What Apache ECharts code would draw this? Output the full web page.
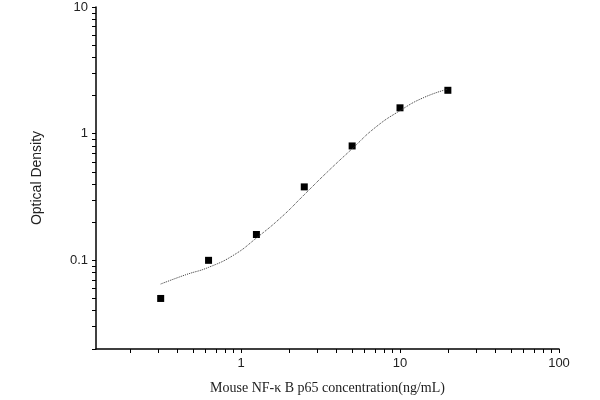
<!DOCTYPE html>
<html><head><meta charset="utf-8">
<script src="https://cdn.jsdelivr.net/npm/echarts@6/dist/echarts.min.js"></script>
<style>html,body{margin:0;background:#fff}#c{width:600px;height:400px}</style>
</head><body><div id="c"></div>
<script>
const concX = [0.3125, 0.625, 1.25, 2.5, 5, 10, 20];
const odY = [0.05, 0.1, 0.16, 0.38, 0.8, 1.6, 2.2];
const curveX = [0.3125, 0.45, 0.625, 0.9, 1.25, 1.8, 2.5, 3.5, 5, 7, 10, 14, 20];
const curveY = [0.065, 0.077, 0.088, 0.11, 0.15, 0.22, 0.33, 0.5, 0.76, 1.12, 1.52, 1.92, 2.25];
const xMajor = [1, 10, 100];
const yMajor = [0.1, 1, 10];
const L = Math.log10;
function minors(a, b) { const r = []; for (let e = a; e < b; e++) for (let k = 1; k <= 9; k++) r.push(L(k * Math.pow(10, e))); return r; }
const xTicks = minors(-1, 2).filter(v => v > -0.912).concat([2]);
const yTicks = minors(-2, 1).filter(v => v > -1.7).concat([1]);
const fmt = v => { const n = Math.pow(10, v); return n < 1 ? n.toFixed(1) : String(Math.round(n)); };
const chart = echarts.init(document.getElementById('c'));
chart.setOption({
  animation: false,
  grid: { left: 96, right: 41, top: 7, bottom: 51 },
  xAxis: {
    type: 'value', min: -0.912, max: 2,
    name: 'Mouse NF-κ B p65 concentration(ng/mL)', nameLocation: 'middle', nameGap: 32,
    nameTextStyle: { fontFamily: 'Liberation Serif', fontSize: 14, color: '#222' },
    axisLine: { onZero: false, lineStyle: { color: '#000', width: 1.5 } },
    axisTick: { customValues: xTicks, length: 4, lineStyle: { color: '#000' } },
    axisLabel: { customValues: xMajor.map(L), formatter: fmt, fontFamily: 'Liberation Sans', fontSize: 13, color: '#222' },
    splitLine: { show: false }
  },
  yAxis: {
    type: 'value', min: -1.7, max: 1,
    name: 'Optical Density', nameLocation: 'middle', nameGap: 52,
    nameTextStyle: { fontFamily: 'Liberation Sans', fontSize: 14, color: '#222' },
    axisLine: { show: true, onZero: false, lineStyle: { color: '#000', width: 1.5 } },
    axisTick: { show: true, customValues: yTicks, length: 4, lineStyle: { color: '#000' } },
    axisLabel: { customValues: yMajor.map(L), formatter: fmt, fontFamily: 'Liberation Sans', fontSize: 13, color: '#222' },
    splitLine: { show: false }
  },
  series: [
    { type: 'line', data: curveX.map((x, i) => [L(x), L(curveY[i])]), smooth: true, symbol: 'none',
      lineStyle: { color: '#333', width: 1, type: 'dotted' } },
    { type: 'scatter', data: concX.map((x, i) => [L(x), L(odY[i])]), symbol: 'rect', symbolSize: 7,
      itemStyle: { color: '#000', opacity: 1 } }
  ]
});
</script></body></html>
